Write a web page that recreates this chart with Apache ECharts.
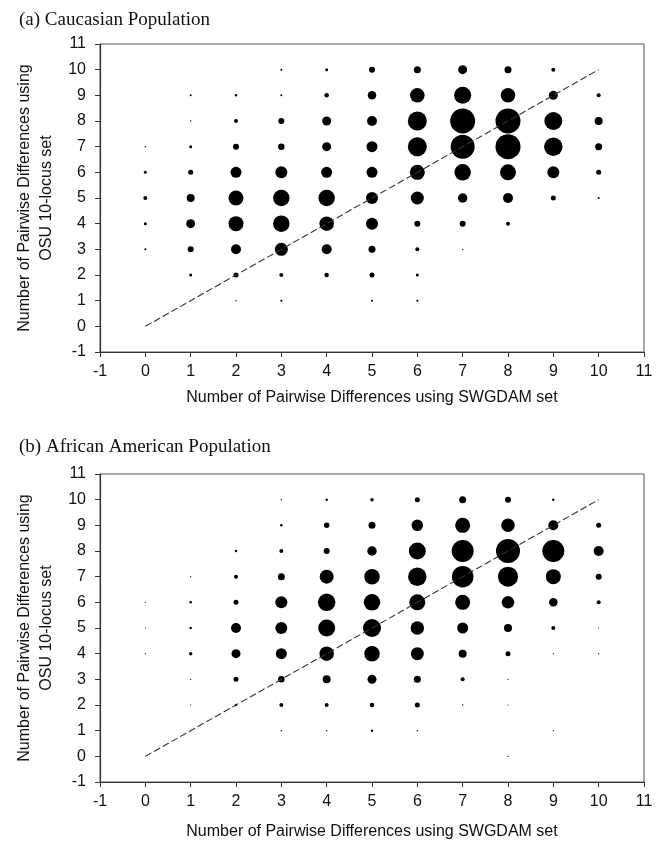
<!DOCTYPE html>
<html>
<head>
<meta charset="utf-8">
<script src="https://cdn.jsdelivr.net/npm/echarts@6/dist/echarts.min.js"></script>
<style>
  html, body { margin: 0; padding: 0; background: #fff; }
  #main { width: 660px; height: 843px; }
</style>
</head>
<body>
<div id="main"></div>
<script>
// tick values shared by both axes
var ticks = [-1, 0, 1, 2, 3, 4, 5, 6, 7, 8, 9, 10, 11];

// frequency of each (SWGDAM, OSU) pair; rows are y = 10 .. 0, columns x = 0 .. 10
var caucasian = [
  [0, 0, 0, 4, 9, 36, 49, 81, 49, 16, 0],
  [0, 4, 6, 4, 20, 72, 210, 289, 210, 81, 16],
  [0, 2, 16, 36, 81, 100, 361, 625, 625, 324, 64],
  [2, 9, 36, 42, 81, 121, 361, 576, 625, 342, 49],
  [9, 25, 121, 144, 121, 121, 225, 272, 256, 144, 25],
  [16, 64, 225, 272, 272, 144, 169, 90, 100, 25, 4],
  [9, 81, 225, 272, 210, 144, 36, 36, 16, 0, 0],
  [4, 36, 100, 169, 100, 49, 16, 2, 0, 0, 0],
  [0, 9, 25, 16, 20, 25, 9, 0, 0, 0, 0],
  [0, 0, 2, 4, 0, 4, 4, 0, 0, 0, 0],
  [0, 0, 0, 0, 0, 0, 0, 0, 0, 0, 0]
];

var african = [
  [0, 0, 0, 2, 6, 12, 25, 49, 36, 6, 0],
  [0, 0, 0, 6, 30, 49, 132, 225, 182, 100, 25],
  [0, 0, 6, 16, 36, 90, 289, 484, 576, 484, 100],
  [0, 1, 16, 49, 196, 240, 342, 462, 400, 225, 36],
  [1, 6, 25, 144, 306, 272, 256, 225, 156, 72, 16],
  [1, 6, 100, 144, 289, 324, 182, 121, 64, 16, 1],
  [1, 12, 81, 121, 210, 240, 169, 64, 25, 1, 1],
  [0, 1, 25, 42, 64, 81, 49, 16, 1, 0, 0],
  [0, 1, 6, 16, 16, 20, 25, 2, 1, 0, 0],
  [0, 0, 0, 2, 2, 6, 2, 0, 0, 1, 0],
  [0, 0, 0, 0, 0, 0, 0, 0, 2, 0, 0]
];

// y = x reference line
var lineX = [0, 10];
var lineY = [0, 10];

function toPoints(m) {
  var pts = [];
  m.forEach(function (row, r) {
    row.forEach(function (v, x) {
      if (v > 0) pts.push([x, 10 - r, v]);
    });
  });
  return pts;
}

var myChart = echarts.init(document.getElementById('main'));

var sans = 'Liberation Sans, Arial, sans-serif';
var serif = 'Liberation Serif, Times New Roman, serif';

function xAx(idx, gap) {
  return {
    gridIndex: idx, type: 'value', min: ticks[0], max: ticks[ticks.length - 1], interval: 1,
    name: 'Number of Pairwise Differences using SWGDAM set',
    nameLocation: 'middle', nameGap: gap,
    nameTextStyle: { fontFamily: sans, fontSize: 16, color: '#111' },
    axisLine: { onZero: false, lineStyle: { color: '#333', width: 1.2 } },
    axisTick: { inside: false, length: 5, lineStyle: { color: '#333' } },
    axisLabel: { fontFamily: sans, fontSize: 16, color: '#111', margin: 12 },
    splitLine: { show: false }
  };
}

function yAx(idx) {
  return {
    gridIndex: idx, type: 'value', min: ticks[0], max: ticks[ticks.length - 1], interval: 1,
    name: 'Number of Pairwise Differences using\nOSU 10-locus set',
    nameLocation: 'middle', nameGap: 40, nameRotate: 90,
    nameTextStyle: { fontFamily: sans, fontSize: 16, color: '#111', lineHeight: 22 },
    axisLine: { onZero: false, lineStyle: { color: '#333', width: 1.2 } },
    axisTick: { inside: false, length: 5, lineStyle: { color: '#333' } },
    axisLabel: { fontFamily: sans, fontSize: 16, color: '#111', margin: 14 },
    splitLine: { show: false }
  };
}

function dots(idx, m) {
  return {
    type: 'scatter', xAxisIndex: idx, yAxisIndex: idx,
    data: toPoints(m),
    symbol: 'circle',
    symbolSize: function (v) { return Math.max(1.2, Math.sqrt(v[2])); },
    itemStyle: { color: '#000', opacity: 1 },
    silent: true
  };
}

function diag(idx) {
  return {
    type: 'line', xAxisIndex: idx, yAxisIndex: idx,
    data: lineX.map(function (x, i) { return [x, lineY[i]]; }),
    showSymbol: false, symbol: 'none',
    lineStyle: { color: '#333', width: 1.1, type: [7, 3] },
    z: 3, silent: true
  };
}

var option = {
  backgroundColor: '#fff',
  animation: false,
  title: [
    { text: '(a) Caucasian Population', left: 14, top: 6,
      textStyle: { fontFamily: serif, fontSize: 19, fontWeight: 'normal', color: '#111' } },
    { text: '(b) African American Population', left: 14, top: 433,
      textStyle: { fontFamily: serif, fontSize: 19, fontWeight: 'normal', color: '#111' } }
  ],
  grid: [
    { left: 100, top: 44, width: 544, height: 308, show: true, borderColor: '#555', borderWidth: 1 },
    { left: 100, top: 474, width: 544, height: 308, show: true, borderColor: '#555', borderWidth: 1 }
  ],
  xAxis: [xAx(0, 38), xAx(1, 42)],
  yAxis: [yAx(0), yAx(1)],
  series: [diag(0), dots(0, caucasian), diag(1), dots(1, african)]
};

myChart.setOption(option);
</script>
</body>
</html>
